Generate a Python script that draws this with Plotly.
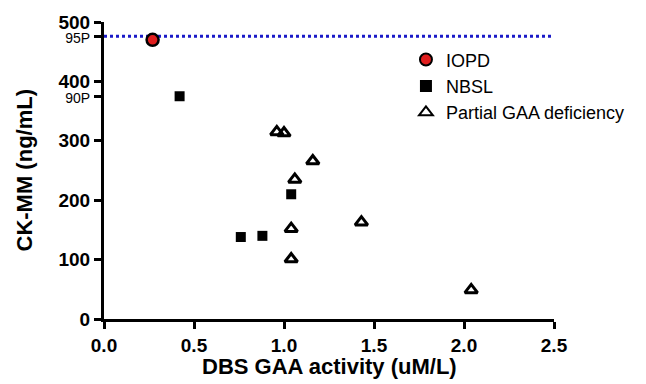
import plotly.graph_objects as go

# Data
iopd_x = [0.27]
iopd_y = [470]

nbsl_x = [0.42, 0.76, 0.88, 1.04]
nbsl_y = [375, 138, 140, 210]

partial_x = [0.96, 1.00, 1.16, 1.06, 1.04, 1.04, 1.43, 2.04]
partial_y = [315, 313, 266, 235, 152, 101, 163, 49]

p95 = 476
p90 = 374

y_ticks = [0, 100, 200, 300, 400, 500]
x_ticks = [0.0, 0.5, 1.0, 1.5, 2.0, 2.5]

x_title = "DBS GAA activity (uM/L)"
y_title = "CK-MM (ng/mL)"

FONT = "Arial, Liberation Sans, Helvetica, sans-serif"

fig = go.Figure()
fig.add_trace(go.Scatter(
    x=iopd_x, y=iopd_y, mode="markers", name="IOPD",
    marker=dict(symbol="circle", size=12, color="#e01e1e",
                line=dict(color="black", width=2.5)),
    cliponaxis=False))
fig.add_trace(go.Scatter(
    x=nbsl_x, y=nbsl_y, mode="markers", name="NBSL",
    marker=dict(symbol="square", size=10, color="black",
                line=dict(color="black", width=0))))
fig.add_trace(go.Scatter(
    x=partial_x, y=partial_y, mode="markers", name="Partial GAA deficiency",
    marker=dict(symbol="triangle-up-open", size=11, color="black",
                line=dict(color="black", width=3))))

# 95th percentile dotted line
fig.add_shape(type="line", xref="paper", yref="y", x0=0, x1=1, y0=p95, y1=p95,
              line=dict(color="#1a1ac8", width=3, dash="dot"), layer="below")

tickvals = y_ticks + [p95, p90]
ticktext = ["<b>%d</b>" % v for v in y_ticks] + [
    "<span style='font-size:14px;font-weight:normal'>95P</span>",
    "<span style='font-size:14px;font-weight:normal'>90P</span>"]

# Axis titles
fig.add_annotation(text="<b>%s</b>" % x_title, xref="paper", yref="paper",
                   x=0.5, y=0, xanchor="center", yanchor="middle",
                   yshift=-47, showarrow=False,
                   font=dict(size=22, family=FONT, color="black"))
fig.add_annotation(text="<b>%s</b>" % y_title, xref="paper", yref="paper",
                   x=0, y=0.5, xanchor="center", yanchor="middle",
                   xshift=-80, textangle=-90, showarrow=False,
                   font=dict(size=22, family=FONT, color="black"))

fig.update_layout(
    width=646, height=384,
    margin=dict(l=96, r=100, t=14, b=73),
    plot_bgcolor="white", paper_bgcolor="white",
    font=dict(family=FONT, color="black"),
    showlegend=True,
    legend=dict(x=0.671, y=0.935, xanchor="left", yanchor="top",
                font=dict(size=18, family=FONT, color="black"),
                bgcolor="rgba(0,0,0,0)", tracegroupgap=0,
                itemsizing="constant"),
    xaxis=dict(range=[0, 2.5], tickvals=x_ticks,
               ticktext=["<b>%.1f</b>" % v for v in x_ticks],
               showgrid=False, zeroline=False, showline=True,
               linecolor="black", linewidth=3, ticks="outside",
               ticklen=7, tickwidth=3, tickcolor="black",
               tickfont=dict(size=19, family=FONT), automargin=False),
    yaxis=dict(range=[0, 500], tickvals=tickvals, ticktext=ticktext,
               showgrid=False, zeroline=False, showline=True,
               linecolor="black", linewidth=3, ticks="outside",
               ticklen=7, tickwidth=3, tickcolor="black",
               tickfont=dict(size=19, family=FONT), automargin=False),
)

fig.write_html("out.html")
